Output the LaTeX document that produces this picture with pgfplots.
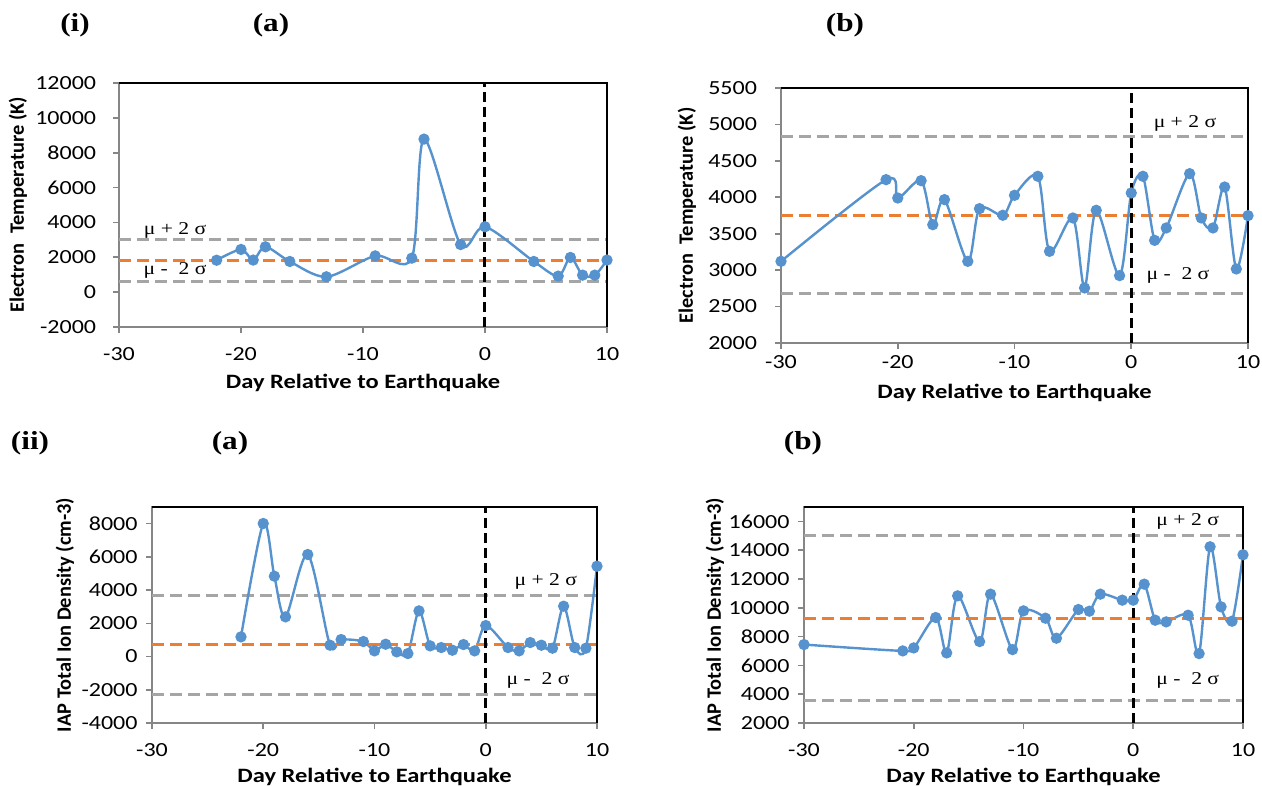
\documentclass[border=0pt]{standalone}
\usepackage{pgfplots}
\pgfplotsset{compat=1.18}
\usepackage{pgfplotstable}
\usepackage{fontspec}
\setmainfont{Carlito}
\newfontfamily\tnr{Liberation Serif}
\definecolor{sblue}{RGB}{86,146,206}
\definecolor{sorange}{RGB}{237,125,49}
\definecolor{sgray}{RGB}{165,165,165}
\definecolor{agray}{RGB}{134,134,134}

\pgfplotstableread{
x y
-22 1830
-20 2450
-19 1840
-18 2600
-16 1760
-13 880
-9 2080
-6 1950
-5 8780
-2 2730
0 3750
4 1760
6 920
7 1990
8 975
9 975
10 1840
}\dataA

\pgfplotstableread{
x y
-30 3121
-21 4242
-20 3990
-18 4228
-17 3624
-16 3968
-14 3121
-13 3844
-11 3753
-10 4027
-8 4288
-7 3258
-5 3716
-4 2755
-3 3821
-1 2925
0 4059
1 4288
2 3409
3 3579
5 4324
6 3716
7 3579
8 4141
9 3016
10 3748
}\dataB

\pgfplotstableread{
x y
-22 1184
-20 8007
-19 4836
-18 2388
-16 6141
-14 682
-13 1023
-11 903
-10 341
-9 742
-8 281
-7 181
-6 2749
-5 642
-4 542
-3 381
-2 722
-1 341
0 1866
2 542
3 341
4 843
5 682
6 502
7 3030
8 542
9 502
10 5438
}\dataC

\pgfplotstableread{
x y
-30 7447
-21 7006
-20 7215
-18 9324
-17 6867
-16 10831
-14 7655
-13 10947
-11 7099
-10 9788
-8 9278
-7 7887
-5 9880
-4 9764
-3 10947
-1 10529
0 10529
1 11642
2 9139
3 9022
5 9486
6 6820
7 14238
8 10066
9 9069
10 13682
}\dataD

\pgfplotsset{
  panel/.style={
    scale only axis,
    anchor=south west,
    clip=false,
    xmin=-30, xmax=10, xtick={-30,-20,-10,0,10},
    axis line style={draw=agray, line width=1pt},
    tick style={draw=agray, line width=0.8pt},
    tick align=outside, major tick length=3pt,
    tick pos=left,
    scaled y ticks=false,
    /pgf/number format/assume math mode=true,
    /pgf/number format/set thousands separator={},
    tick label style={font=\fontsize{10}{12}\selectfont, xscale=1.2},
    every axis x label/.style={at={(axis description cs:0.5,0)}, anchor=center, font=\fontsize{10.2}{12}\selectfont\bfseries, xscale=1.2},
    xlabel={Day Relative to Earthquake},
  },
  ylab/.style={every axis y label/.style={at={(axis description cs:0,0.5)}, xshift=-#1, rotate=90, anchor=center, font=\fontsize{10.2}{12}\selectfont\bfseries}},
  blueline/.style={color=sblue, line width=1.2pt, smooth, tension=0.5, mark=*, mark size=2.2pt, mark options={solid, fill=sblue, draw=sblue}},
  grayd/.style={color=sgray, line width=1.5pt, dash pattern=on 6pt off 3pt},
  oranged/.style={color=sorange, line width=1.5pt, dash pattern=on 6pt off 3pt},
  blackd/.style={color=black, line width=1.5pt, dash pattern=on 5pt off 2.5pt},
}

\newcommand{\frameTR}{\draw[black, line width=0.8pt] (rel axis cs:0,1) -- (rel axis cs:1,1) -- (rel axis cs:1,0);}
\newcommand{\mulab}[1]{{\tnr\fontsize{9}{10}\selectfont #1}}

\begin{document}
\begin{tikzpicture}
\useasboundingbox (0,0) rectangle (631pt,393pt);

% (i)(a)
\begin{axis}[panel, at={(59.5pt,229.5pt)}, width=244pt, height=122pt,
  ymin=-2000, ymax=12000, ytick={-2000,0,...,12000},
  xticklabel style={yshift=-3.5pt},
  yticklabel style={xshift=-3.5pt},
  every axis x label/.append style={yshift=-28pt},
  ylab=50.5pt, ylabel={Electron\ \ Temperature (K)}]
\addplot[grayd] coordinates {(-30,3040) (10,3040)};
\addplot[grayd] coordinates {(-30,590) (10,590)};
\addplot[oranged] coordinates {(-30,1835) (10,1835)};
\addplot[blueline] table {\dataA};
\addplot[blackd] coordinates {(0,-2000) (0,12000)};
\node[xscale=1.2] at (axis cs:-25.4,3560) {\mulab{μ + 2 σ}};
\node[xscale=1.2] at (axis cs:-25.4,1220) {\mulab{μ -\ \ 2 σ}};
\frameTR
\end{axis}

% (i)(b)
\begin{axis}[panel, at={(390.5pt,221.5pt)}, width=233.5pt, height=127.5pt,
  ymin=2000, ymax=5500, ytick={2000,2500,...,5500},
  xticklabel style={yshift=0.5pt},
  yticklabel style={xshift=-4pt},
  every axis x label/.append style={yshift=-25pt},
  ylab=47pt, ylabel={Electron\ \ Temperature (K)}]
\addplot[grayd] coordinates {(-30,4828) (10,4828)};
\addplot[grayd] coordinates {(-30,2673) (10,2673)};
\addplot[oranged] coordinates {(-30,3748) (10,3748)};
\addplot[blueline] table {\dataB};
\addplot[blackd] coordinates {(0,2000) (0,5500)};
\node[xscale=1.2] at (axis cs:4.6,5020) {\mulab{μ + 2 σ}};
\node[xscale=1.2] at (axis cs:4.0,2925) {\mulab{μ -\ \ 2 σ}};
\frameTR
\end{axis}

% (ii)(a)
\begin{axis}[panel, at={(76pt,31.5pt)}, width=222.5pt, height=108pt,
  ymin=-4000, ymax=9000, ytick={-4000,-2000,...,8000},
  xticklabel style={yshift=-3.5pt},
  every axis x label/.append style={yshift=-27pt},
  ylab=43.5pt, ylabel={IAP Total Ion Density (cm-3)}]
\addplot[grayd] coordinates {(-30,3693) (10,3693)};
\addplot[grayd] coordinates {(-30,-2288) (10,-2288)};
\addplot[blueline] table {\dataC};
\addplot[oranged] coordinates {(-30,702) (10,702)};
\addplot[blackd] coordinates {(0,-4000) (0,9000)};
\node[xscale=1.2] at (axis cs:5.4,4495) {\mulab{μ + 2 σ}};
\node[xscale=1.2] at (axis cs:4.7,-1425) {\mulab{μ -\ \ 2 σ}};
\frameTR
\end{axis}

% (ii)(b)
\begin{axis}[panel, at={(402pt,31.5pt)}, width=219.5pt, height=108pt,
  ymin=2000, ymax=17000, ytick={2000,4000,...,16000},
  xticklabel style={yshift=-3.5pt},
  every axis x label/.append style={yshift=-27pt},
  ylab=44.5pt, ylabel={IAP Total Ion Density (cm-3)}]
\addplot[grayd] coordinates {(-30,15026) (10,15026)};
\addplot[grayd] coordinates {(-30,3575) (10,3575)};
\addplot[blueline] table {\dataD};
\addplot[oranged] coordinates {(-30,9278) (10,9278)};
\addplot[blackd] coordinates {(0,2000) (0,17000)};
\node[xscale=1.2] at (axis cs:4.96,15977) {\mulab{μ + 2 σ}};
\node[xscale=1.2] at (axis cs:4.96,4966) {\mulab{μ -\ \ 2 σ}};
\frameTR
\end{axis}

% panel titles
\begin{scope}[every node/.style={font=\tnr\bfseries\fontsize{13}{15}\selectfont, xscale=1.2}]
\node at (37.5pt,380.5pt) {(i)};
\node at (135.5pt,380.5pt) {(a)};
\node at (422.5pt,380.5pt) {(b)};
\node at (15pt,171.5pt) {(ii)};
\node at (115pt,171.5pt) {(a)};
\node at (401.5pt,171.5pt) {(b)};
\end{scope}
\end{tikzpicture}
\end{document}
